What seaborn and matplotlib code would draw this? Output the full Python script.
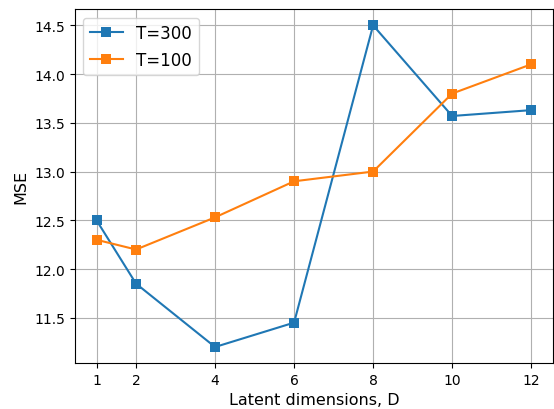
import matplotlib
matplotlib.use("Agg")
import matplotlib.pyplot as plt
import seaborn as sns
import pandas as pd

dims = [1, 2, 4, 6, 8, 10, 12]
mse_t300 = [12.5, 11.85, 11.2, 11.45, 14.5, 13.57, 13.63]
mse_t100 = [12.3, 12.2, 12.53, 12.9, 13.0, 13.8, 14.1]
series_names = ["T=300", "T=100"]

df = pd.DataFrame({
    "D": dims * 2,
    "MSE": mse_t300 + mse_t100,
    "series": [series_names[0]] * len(dims) + [series_names[1]] * len(dims),
})

plt.rcParams['font.family'] = ['DejaVu Sans']
fig, ax = plt.subplots(figsize=(5.54, 4.10), dpi=100)
sns.lineplot(data=df, x="D", y="MSE", hue="series", style="series",
             markers=["s", "s"], dashes=False, markersize=7, markeredgewidth=0,
             palette=["#1f77b4", "#ff7f0e"], ax=ax)
ax.set_xticks(dims)
ax.tick_params(labelsize=10)
ax.grid(True, color="#b0b0b0", linewidth=0.8)
ax.set_axisbelow(True)
ax.set_xlabel("Latent dimensions, D", fontsize=11.5)
ax.set_ylabel("MSE", fontsize=11.5)
ax.legend(title=None, loc="upper left", fontsize=12)
fig.subplots_adjust(left=0.135, right=0.998, top=0.975, bottom=0.112)
fig.savefig("out.png", dpi=100)
